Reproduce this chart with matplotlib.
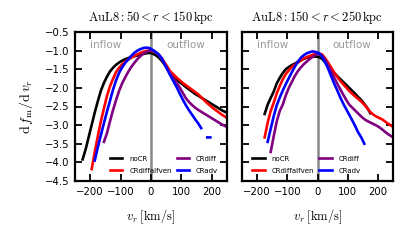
import numpy as np
import matplotlib
matplotlib.use("Agg")
import matplotlib.pyplot as plt

plt.rcParams['mathtext.fontset'] = 'cm'
plt.rcParams['font.family'] = 'DejaVu Sans'

nan = np.nan
# bin centres of radial velocity [km/s]
vr = np.arange(-245, 250, 10)

# ---- panel 1 : 50 < r < 150 kpc ----
p1_noCR = [nan, nan, -3.92, -3.65, -3.32, -2.99, -2.66, -2.36, -2.08, -1.87,
           -1.70, -1.56, -1.46, -1.38, -1.32, -1.27, -1.23, -1.20, -1.17, -1.15,
           -1.13, -1.11, -1.09, -1.07, -1.06, -1.08, -1.12, -1.18, -1.27, -1.38,
           -1.50, -1.61, -1.70, -1.78, -1.85, -1.91, -1.98, -2.04, -2.10, -2.16,
           -2.21, -2.26, -2.31, -2.36, -2.41, -2.46, -2.51, -2.56, -2.61, -2.65]
p1_alfven = [nan, nan, nan, nan, nan, -4.18, -3.72, -3.30, -2.90, -2.56,
             -2.22, -1.96, -1.76, -1.58, -1.46, -1.37, -1.30, -1.24, -1.19, -1.14,
             -1.10, -1.06, -1.03, -1.01, -1.00, -1.01, -1.05, -1.11, -1.20, -1.32,
             -1.45, -1.57, -1.65, -1.73, -1.80, -1.87, -1.93, -1.99, -2.05, -2.11,
             -2.17, -2.25, -2.33, -2.41, -2.48, -2.55, -2.61, -2.67, -2.73, -2.78]
p1_diff = [nan, nan, nan, nan, nan, nan, nan, nan, nan, -3.45,
           -3.22, -2.90, -2.60, -2.33, -2.08, -1.88, -1.72, -1.57, -1.44, -1.33,
           -1.23, -1.15, -1.08, -1.03, -1.00, -0.99, -1.03, -1.11, -1.22, -1.36,
           -1.51, -1.64, -1.76, -1.87, -2.00, -2.14, -2.28, -2.38, -2.46, -2.53,
           -2.59, -2.64, -2.69, -2.74, -2.79, -2.84, -2.89, -2.94, -2.99, -3.03]
p1_adv = [nan, nan, nan, nan, nan, nan, -3.95, -3.60, -3.27, -2.95,
          -2.64, -2.35, -2.05, -1.80, -1.60, -1.45, -1.33, -1.24, -1.14, -1.06,
          -1.00, -0.96, -0.93, -0.92, -0.93, -0.98, -1.04, -1.10, -1.20, -1.37,
          -1.53, -1.69, -1.84, -1.99, -2.16, -2.32, -2.47, -2.60, -2.72, -2.84,
          -2.95, -3.08, nan, -3.33, -3.33, nan, nan, nan, nan, nan]

# ---- panel 2 : 150 < r < 250 kpc ----
p2_noCR = [nan, nan, nan, nan, nan, nan, nan, -2.70, -2.45, -2.27,
           -2.10, -1.88, -1.73, -1.60, -1.50, -1.44, -1.39, -1.35, -1.30, -1.26,
           -1.22, -1.19, -1.17, -1.16, -1.16, -1.17, -1.22, -1.31, -1.42, -1.52,
           -1.60, -1.68, -1.76, -1.84, -1.92, -2.00, -2.08, -2.16, -2.25, -2.33,
           -2.43, -2.54, -2.68, nan, nan, nan, nan, nan, nan, nan]
p2_alfven = [nan, nan, nan, nan, nan, nan, nan, -3.33, -2.93, -2.62,
             -2.40, -2.15, -1.95, -1.77, -1.63, -1.53, -1.44, -1.38, -1.32, -1.26,
             -1.21, -1.17, -1.14, -1.11, -1.09, -1.08, -1.10, -1.20, -1.32, -1.45,
             -1.58, -1.70, -1.81, -1.90, -1.99, -2.08, -2.16, -2.23, -2.30, -2.37,
             -2.45, -2.55, -2.65, -2.72, -2.77, -2.81, -2.85, -2.91, -2.97, -3.02]
p2_diff = [nan, nan, nan, nan, nan, nan, nan, nan, nan, -3.72,
           -3.30, -2.90, -2.62, -2.45, -2.20, -2.00, -1.84, -1.68, -1.55, -1.45,
           -1.36, -1.29, -1.22, -1.16, -1.11, -1.08, -1.14, -1.25, -1.39, -1.56,
           -1.72, -1.88, -2.03, -2.18, -2.32, -2.45, -2.53, -2.61, -2.69, -2.77,
           -2.84, -2.89, -2.93, -2.97, -3.01, -3.06, -3.12, -3.19, -3.25, -3.30]
p2_adv = [nan, nan, nan, nan, nan, nan, nan, nan, -3.45, -3.10,
          -2.76, -2.47, -2.26, -2.07, -1.90, -1.74, -1.58, -1.43, -1.30, -1.19,
          -1.12, -1.07, -1.04, -1.02, -1.04, -1.07, -1.15, -1.31, -1.48, -1.68,
          -1.88, -2.06, -2.25, -2.42, -2.57, -2.72, -2.87, -3.03, -3.20, -3.33,
          -3.50, nan, nan, nan, nan, nan, nan, nan, nan, nan]

labels = ['noCR', 'CRdiffalfven', 'CRdiff', 'CRadv']
colors = ['black', 'red', 'purple', 'blue']
titles = [r'$\mathrm{AuL8}: 50 < r < 150\,\mathrm{kpc}$',
          r'$\mathrm{AuL8}: 150 < r < 250\,\mathrm{kpc}$']
panels = [[p1_noCR, p1_alfven, p1_diff, p1_adv],
          [p2_noCR, p2_alfven, p2_diff, p2_adv]]
xticks = [-200, -100, 0, 100, 200]
yticks = [-0.5, -1.0, -1.5, -2.0, -2.5, -3.0, -3.5, -4.0, -4.5]

W, H = 408, 242
fig = plt.figure(figsize=(W / 100, H / 100), dpi=100)
ax_boxes = [(75, 32, 152, 149), (242, 32, 151, 149)]
leg_x = [0.215, 0.055]

for i, (l, t, w, h) in enumerate(ax_boxes):
    ax = fig.add_axes([l / W, (H - t - h) / H, w / W, h / H])
    for vals, lab, c in zip(panels[i], labels, colors):
        ax.plot(vr, vals, color=c, lw=1.9, label=lab)
    ax.axvline(0, color='#888888', lw=1.8, zorder=0)
    ax.set_xlim(-250, 250)
    ax.set_ylim(-4.5, -0.5)
    ax.set_xticks(xticks)
    ax.set_yticks(yticks)
    ax.tick_params(direction='in', top=True, right=True, length=5, width=1.3,
                   labelsize=7.3, pad=4)
    if i == 1:
        ax.set_yticklabels([])
    else:
        ax.set_ylabel(r'$\mathrm{d}\,f_\mathrm{m}/\mathrm{d}\,v_r$', fontsize=10, labelpad=7)
    for s in ax.spines.values():
        s.set_linewidth(1.6)
    ax.set_xlabel(r'$v_r\;[\mathrm{km/s}]$', fontsize=9, labelpad=8)
    ax.set_title(titles[i], fontsize=9, pad=8)
    ax.text(-200, -0.85, 'inflow', color='#999999', fontsize=7.5, ha='left', va='center')
    ax.text(50, -0.85, 'outflow', color='#999999', fontsize=7.5, ha='left', va='center')
    ax.legend(ncol=2, frameon=False, fontsize=5, loc='lower left',
              bbox_to_anchor=(leg_x[i], 0.035), borderaxespad=0, borderpad=0.3,
              handlelength=1.8, handletextpad=1.0, columnspacing=0.7,
              labelspacing=0.85)

fig.savefig('out.png', dpi=100)
